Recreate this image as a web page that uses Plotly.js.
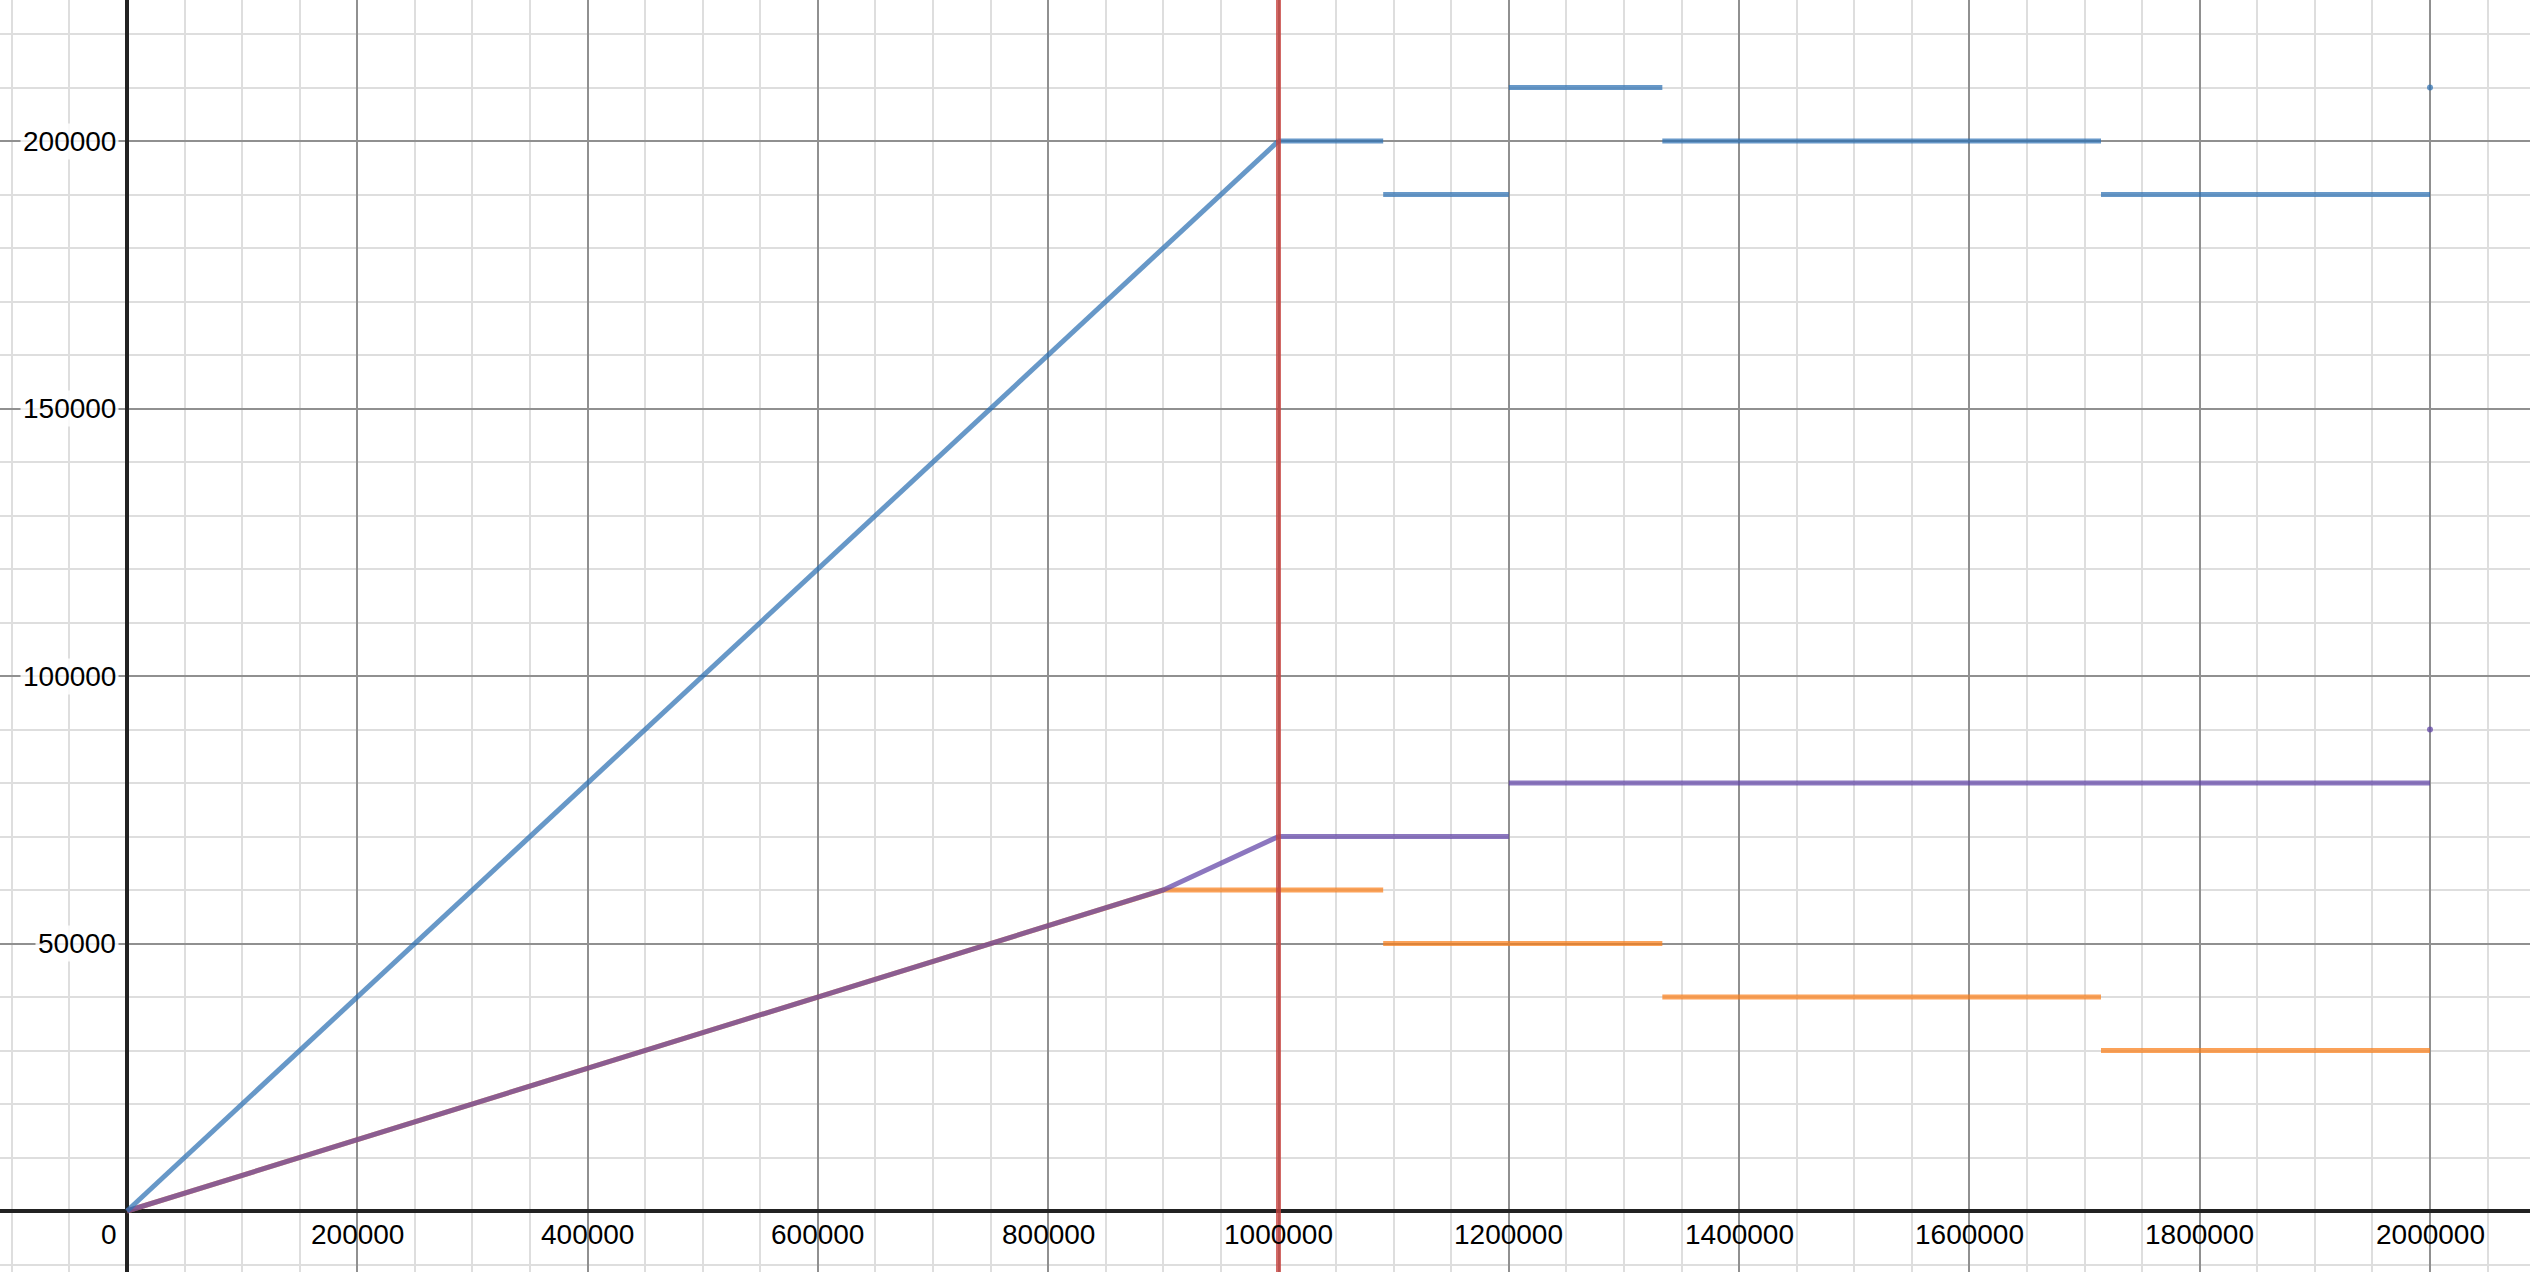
<!DOCTYPE html>
<html>
<head>
<meta charset="utf-8">
<script src="https://cdn.plot.ly/plotly-3.0.1.min.js"></script>
<style>
  html, body { margin: 0; padding: 0; background: #fff; }
  #chart { width: 2530px; height: 1272px; }
</style>
</head>
<body>
<div id="chart"></div>
<script>
// ---- data ----
const xTickVals = [200000, 400000, 600000, 800000, 1000000, 1200000, 1400000, 1600000, 1800000, 2000000];
const xTickText = ["200000", "400000", "600000", "800000", "1000000", "1200000", "1400000", "1600000", "1800000", "2000000"];
const yTickVals = [50000, 100000, 150000, 200000];
const yTickText = ["50000", "100000", "150000", "200000"];
const originLabel = "0";

// blue: ramp then step segments, plus end point
const blueRampX = [0, 1000000];
const blueRampY = [0, 200000];
const blueSegStart = [1000000, 1090909, 1200000, 1333333, 1714286];
const blueSegEnd   = [1090909, 1200000, 1333333, 1714286, 2000000];
const blueSegY     = [200000, 190000, 210000, 200000, 190000];
const blueDotX = [2000000];
const blueDotY = [210000];

// orange: shares the lower ramp, then step segments
const orangeRampX = [0, 900000];
const orangeRampY = [0, 60000];
const orangeSegStart = [900000, 1090909, 1333333, 1714286];
const orangeSegEnd   = [1090909, 1333333, 1714286, 2000000];
const orangeSegY     = [60000, 50000, 40000, 30000];

// purple: ramp with kink, then step segments, plus end point
const purpleRampX = [0, 900000, 1000000];
const purpleRampY = [0, 60000, 70000];
const purpleSegStart = [1000000, 1200000];
const purpleSegEnd   = [1200000, 2000000];
const purpleSegY     = [70000, 80000];
const purpleDotX = [2000000];
const purpleDotY = [90000];

// red vertical line
const redX = [1000000, 1000000];
const redY = [-20000, 240000];

// ---- helpers ----
function segs(starts, ends, ys) {
  const x = [], y = [];
  for (let i = 0; i < starts.length; i++) {
    x.push(starts[i], ends[i], null);
    y.push(ys[i], ys[i], null);
  }
  return {x, y};
}

const BLUE = 'rgba(45,112,179,0.72)';
const ORANGE = 'rgba(250,126,25,0.72)';
const PURPLE = 'rgba(96,66,166,0.72)';
const RED = 'rgba(199,68,64,0.8)';
const LW = 5;

const bS = segs(blueSegStart, blueSegEnd, blueSegY);
const oS = segs(orangeSegStart, orangeSegEnd, orangeSegY);
const pS = segs(purpleSegStart, purpleSegEnd, purpleSegY);

const lineOpts = (c) => ({color: c, width: LW});

const traces = [
  {x: orangeRampX, y: orangeRampY, mode: 'lines', line: lineOpts(ORANGE), hoverinfo: 'skip'},
  {x: oS.x, y: oS.y, mode: 'lines', line: lineOpts(ORANGE), connectgaps: false, hoverinfo: 'skip'},
  {x: purpleRampX, y: purpleRampY, mode: 'lines', line: lineOpts(PURPLE), hoverinfo: 'skip'},
  {x: pS.x, y: pS.y, mode: 'lines', line: lineOpts(PURPLE), connectgaps: false, hoverinfo: 'skip'},
  {x: purpleDotX, y: purpleDotY, mode: 'markers', marker: {color: PURPLE, size: 6}, hoverinfo: 'skip'},
  {x: blueRampX, y: blueRampY, mode: 'lines', line: lineOpts(BLUE), hoverinfo: 'skip'},
  {x: bS.x, y: bS.y, mode: 'lines', line: lineOpts(BLUE), connectgaps: false, hoverinfo: 'skip'},
  {x: blueDotX, y: blueDotY, mode: 'markers', marker: {color: BLUE, size: 6}, hoverinfo: 'skip'},
  {x: redX, y: redY, mode: 'lines', line: {color: RED, width: 5}, hoverinfo: 'skip'}
];

const xMin = -110290, xMax = 2086843;
const yMin = -11402, yMax = 226355;

const font = {family: 'Liberation Sans, Arial, sans-serif', size: 28, color: '#000'};

const annotations = [];
xTickVals.forEach((v, i) => annotations.push({
  x: v, y: 0, xref: 'x', yref: 'y', text: xTickText[i], showarrow: false,
  xanchor: 'center', yanchor: 'top', yshift: -6, font: font
}));
yTickVals.forEach((v, i) => annotations.push({
  x: 0, y: v, xref: 'x', yref: 'y', text: yTickText[i], showarrow: false,
  xanchor: 'right', yanchor: 'middle', xshift: -8, font: font,
  bgcolor: 'rgba(255,255,255,0.85)', borderpad: 2
}));
annotations.push({
  x: 0, y: 0, xref: 'x', yref: 'y', text: originLabel, showarrow: false,
  xanchor: 'right', yanchor: 'top', xshift: -8, yshift: -6, font: font
});

const layout = {
  width: 2530, height: 1272,
  margin: {l: 0, r: 0, t: 0, b: 0, pad: 0},
  paper_bgcolor: '#fff', plot_bgcolor: '#fff',
  showlegend: false,
  font: font,
  xaxis: {
    range: [xMin, xMax], domain: [0, 1],
    tickmode: 'linear', tick0: 0, dtick: 200000,
    ticks: '', showticklabels: false,
    showgrid: true, gridcolor: '#909090', gridwidth: 2,
    minor: {tickmode: 'linear', tick0: 0, dtick: 50000, showgrid: true, gridcolor: '#dedede', gridwidth: 2, ticks: ''},
    zeroline: true, zerolinecolor: '#222', zerolinewidth: 3.5,
    showline: false, fixedrange: true
  },
  yaxis: {
    range: [yMin, yMax], domain: [0, 1],
    tickmode: 'linear', tick0: 0, dtick: 50000,
    ticks: '', showticklabels: false,
    showgrid: true, gridcolor: '#909090', gridwidth: 2,
    minor: {tickmode: 'linear', tick0: 0, dtick: 10000, showgrid: true, gridcolor: '#dedede', gridwidth: 2, ticks: ''},
    zeroline: true, zerolinecolor: '#222', zerolinewidth: 3.5,
    showline: false, fixedrange: true
  },
  annotations: annotations
};

Plotly.newPlot('chart', traces, layout, {staticPlot: true, displayModeBar: false});
</script>
</body>
</html>
